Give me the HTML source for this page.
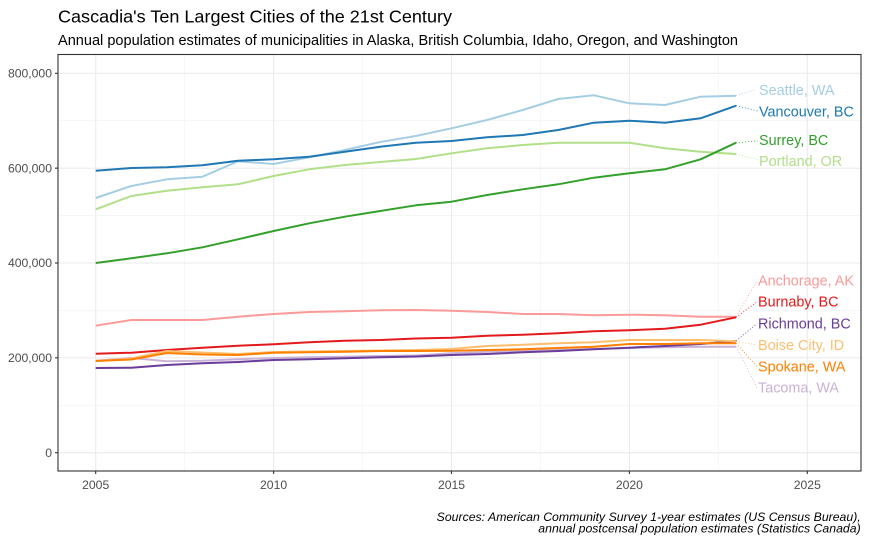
<!DOCTYPE html>
<html><head><meta charset="utf-8"><style>
html,body{margin:0;padding:0;background:#fff;}
svg{display:block;font-family:"Liberation Sans",Arial,sans-serif;}
</style></head><body>
<svg width="869" height="542" viewBox="0 0 869 542" xmlns="http://www.w3.org/2000/svg">
<rect width="869" height="542" fill="#fff"/>
<text x="58" y="22.5" font-size="17.6" fill="#000" textLength="394" lengthAdjust="spacingAndGlyphs">Cascadia's Ten Largest Cities of the 21st Century</text>
<text x="58" y="45" font-size="14.6" fill="#000" textLength="680" lengthAdjust="spacingAndGlyphs">Annual population estimates of municipalities in Alaska, British Columbia, Idaho, Oregon, and Washington</text>
<g stroke="#F2F2F2" stroke-width="0.6" fill="none">
<line x1="58" x2="861" y1="405.3" y2="405.3"/>
<line x1="58" x2="861" y1="310.4" y2="310.4"/>
<line x1="58" x2="861" y1="215.6" y2="215.6"/>
<line x1="58" x2="861" y1="120.7" y2="120.7"/>
<line y1="54.5" y2="471" x1="184.6" x2="184.6"/>
<line y1="54.5" y2="471" x1="362.5" x2="362.5"/>
<line y1="54.5" y2="471" x1="540.4" x2="540.4"/>
<line y1="54.5" y2="471" x1="718.3" x2="718.3"/>
</g>
<g stroke="#EBEBEB" stroke-width="1.1" fill="none">
<line x1="58" x2="861" y1="452.7" y2="452.7"/>
<line x1="58" x2="861" y1="357.85" y2="357.85"/>
<line x1="58" x2="861" y1="263" y2="263"/>
<line x1="58" x2="861" y1="168.15" y2="168.15"/>
<line x1="58" x2="861" y1="73.3" y2="73.3"/>
<line y1="54.5" y2="471" x1="95.7" x2="95.7"/>
<line y1="54.5" y2="471" x1="273.6" x2="273.6"/>
<line y1="54.5" y2="471" x1="451.5" x2="451.5"/>
<line y1="54.5" y2="471" x1="629.4" x2="629.4"/>
<line y1="54.5" y2="471" x1="807.3" x2="807.3"/>
</g>
<g fill="none" stroke-width="2" stroke-linejoin="round">
<polyline stroke="#A6CEE3" points="95.7,198 131.3,186 166.9,179.3 202.4,176.7 238,161.3 273.6,164 309.2,157.3 344.8,150 380.3,142 415.9,136 451.5,128.3 487.1,120 522.7,110 558.2,99 593.8,95.3 629.4,103.3 665,105 700.6,96.7 736.1,95.7"/>
<polyline stroke="#1F78B4" points="95.7,170.7 131.3,168 166.9,167.3 202.4,165.3 238,160.7 273.6,159.3 309.2,156.7 344.8,151.7 380.3,146.7 415.9,142.7 451.5,141 487.1,137.3 522.7,135 558.2,130 593.8,122.7 629.4,120.7 665,122.7 700.6,118.3 736.1,105.7"/>
<polyline stroke="#B2DF8A" points="95.7,209.3 131.3,196 166.9,190.7 202.4,187.3 238,184.3 273.6,176 309.2,169.3 344.8,165 380.3,162 415.9,159 451.5,153.3 487.1,148.3 522.7,145 558.2,142.7 593.8,142.7 629.4,142.7 665,148.3 700.6,151.7 736.1,154"/>
<polyline stroke="#33A02C" points="95.7,263 131.3,258.3 166.9,253.3 202.4,247.3 238,239.3 273.6,231 309.2,223.3 344.8,216.7 380.3,211 415.9,205.3 451.5,201.7 487.1,195 522.7,189.3 558.2,184.3 593.8,177.7 629.4,173.3 665,169.3 700.6,159.3 736.1,142.7"/>
<polyline stroke="#FB9A99" points="95.7,325.7 131.3,320 166.9,320 202.4,320 238,316.7 273.6,314 309.2,312 344.8,311.3 380.3,310.3 415.9,310 451.5,310.7 487.1,312 522.7,314 558.2,314 593.8,315.3 629.4,314.7 665,315.3 700.6,316.7 736.1,316.7"/>
<polyline stroke="#E31A1C" points="95.7,353.7 131.3,352.7 166.9,350 202.4,347.7 238,345.7 273.6,344.3 309.2,342.3 344.8,340.7 380.3,340 415.9,338.5 451.5,337.7 487.1,335.7 522.7,334.7 558.2,333.3 593.8,331.3 629.4,330.3 665,328.7 700.6,324.7 736.1,317.3"/>
<polyline stroke="#CAB2D6" points="95.7,360.7 131.3,358 166.9,361.3 202.4,360.7 238,359.3 273.6,358 309.2,357.3 344.8,356.7 380.3,356 415.9,355.5 451.5,353.3 487.1,351.7 522.7,351 558.2,350 593.8,349 629.4,348 665,347.3 700.6,346.7 736.1,346.7"/>
<polyline stroke="#6A3D9A" points="95.7,368 131.3,367.7 166.9,365 202.4,363.3 238,362 273.6,360 309.2,359.3 344.8,358.3 380.3,357.3 415.9,356.5 451.5,355 487.1,354 522.7,352.3 558.2,351 593.8,349.3 629.4,347.7 665,346 700.6,344 736.1,341"/>
<polyline stroke="#FDBF6F" points="95.7,361 131.3,358.5 166.9,351 202.4,352.5 238,354 273.6,352 309.2,351.5 344.8,351 380.3,350.5 415.9,350 451.5,349 487.1,346 522.7,344.7 558.2,343.3 593.8,342.3 629.4,340 665,340 700.6,340 736.1,341.3"/>
<polyline stroke="#FF7F00" points="95.7,361 131.3,359.5 166.9,353 202.4,354.5 238,355 273.6,352.7 309.2,352.3 344.8,351.7 380.3,351 415.9,351 451.5,350.7 487.1,350 522.7,349.3 558.2,348 593.8,346.7 629.4,344 665,344 700.6,343.3 736.1,343.3"/>
</g>
<g fill="none" stroke-width="0.8" stroke-dasharray="1,2">
<line x1="736.1" y1="95.7" x2="756" y2="89.5" stroke="#A6CEE3"/>
<line x1="736.1" y1="105.7" x2="757.5" y2="111" stroke="#1F78B4"/>
<line x1="736.1" y1="142.7" x2="757.5" y2="141" stroke="#33A02C"/>
<line x1="736.1" y1="154" x2="757.5" y2="159.5" stroke="#B2DF8A"/>
<line x1="736.1" y1="316.7" x2="757" y2="281" stroke="#FB9A99"/>
<line x1="736.1" y1="317.3" x2="757" y2="302" stroke="#E31A1C"/>
<line x1="736.1" y1="341" x2="757" y2="323.5" stroke="#6A3D9A"/>
<line x1="736.1" y1="341.3" x2="757" y2="345" stroke="#FDBF6F"/>
<line x1="736.1" y1="343.3" x2="757" y2="366.5" stroke="#FF7F00"/>
<line x1="736.1" y1="346.7" x2="757" y2="387.5" stroke="#CAB2D6"/>
</g>
<g font-size="14.4">
<text x="759" y="95" fill="#A6CEE3">Seattle, WA</text>
<text x="759" y="116.7" fill="#1F78B4">Vancouver, BC</text>
<text x="759" y="145" fill="#33A02C">Surrey, BC</text>
<text x="759" y="166" fill="#B2DF8A">Portland, OR</text>
<text x="758" y="285.7" fill="#FB9A99">Anchorage, AK</text>
<text x="758" y="306.7" fill="#E31A1C">Burnaby, BC</text>
<text x="758" y="328.3" fill="#6A3D9A">Richmond, BC</text>
<text x="758" y="350" fill="#FDBF6F">Boise City, ID</text>
<text x="758" y="371.7" fill="#FF7F00">Spokane, WA</text>
<text x="758" y="392.7" fill="#CAB2D6">Tacoma, WA</text>
</g>
<rect x="58" y="54.5" width="803" height="416.5" fill="none" stroke="#333333" stroke-width="1.1"/>
<g stroke="#333333" stroke-width="1.1">
<line x1="55" x2="58" y1="452.7" y2="452.7"/>
<line x1="55" x2="58" y1="357.85" y2="357.85"/>
<line x1="55" x2="58" y1="263" y2="263"/>
<line x1="55" x2="58" y1="168.15" y2="168.15"/>
<line x1="55" x2="58" y1="73.3" y2="73.3"/>
<line y1="471" y2="474" x1="95.7" x2="95.7"/>
<line y1="471" y2="474" x1="273.6" x2="273.6"/>
<line y1="471" y2="474" x1="451.5" x2="451.5"/>
<line y1="471" y2="474" x1="629.4" x2="629.4"/>
<line y1="471" y2="474" x1="807.3" x2="807.3"/>
</g>
<g font-size="12.2" fill="#4D4D4D" text-anchor="end">
<text x="52" y="457">0</text>
<text x="52" y="362.1">200,000</text>
<text x="52" y="267.2">400,000</text>
<text x="52" y="172.4">600,000</text>
<text x="52" y="77.5">800,000</text>
</g>
<g font-size="12.2" fill="#4D4D4D" text-anchor="middle">
<text x="95.7" y="489">2005</text>
<text x="273.6" y="489">2010</text>
<text x="451.5" y="489">2015</text>
<text x="629.4" y="489">2020</text>
<text x="807.3" y="489">2025</text>
</g>
<g font-size="12" fill="#000" font-style="italic">
<text x="436.7" y="521" textLength="424" lengthAdjust="spacingAndGlyphs">Sources: American Community Survey 1-year estimates (US Census Bureau),</text>
<text x="538.3" y="532.3" textLength="322.4" lengthAdjust="spacingAndGlyphs">annual postcensal population estimates (Statistics Canada)</text>
</g>
</svg>
</body></html>
